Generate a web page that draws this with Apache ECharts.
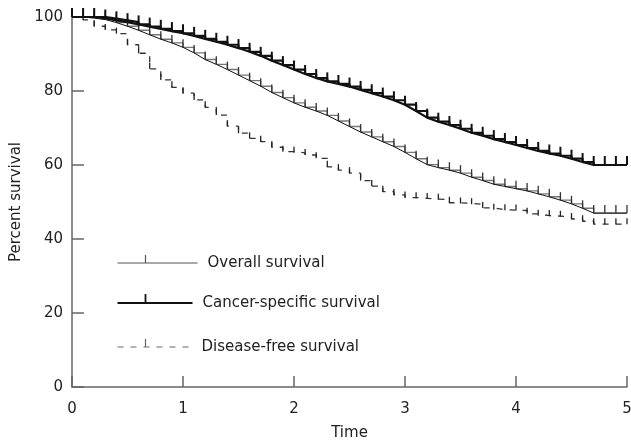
<!DOCTYPE html>
<html>
<head>
<meta charset="utf-8">
<script src="https://cdn.jsdelivr.net/npm/echarts@6/dist/echarts.min.js"></script>
<style>
  html, body { margin: 0; padding: 0; background: #fff; }
  #chart { width: 631px; height: 443px; }
</style>
</head>
<body>
<div id="chart"></div>
<script>
// time points (years)
var times = [0, 0.1, 0.2, 0.3, 0.4, 0.5, 0.6, 0.7, 0.8, 0.9,
    1.0, 1.1, 1.2, 1.3, 1.4, 1.5, 1.6, 1.7, 1.8, 1.9,
    2.0, 2.1, 2.2, 2.3, 2.4, 2.5, 2.6, 2.7, 2.8, 2.9,
    3.0, 3.1, 3.2, 3.3, 3.4, 3.5, 3.6, 3.7, 3.8, 3.9,
    4.0, 4.1, 4.2, 4.3, 4.4, 4.5, 4.6, 4.7, 4.8, 4.9, 5.0];

var overall = [100, 100, 99.7, 99.3, 98.5, 97.5, 96.4, 95.2, 94, 93,
    91.8, 90.3, 88.5, 87.2, 85.8, 84.3, 82.8, 81.3, 79.6, 78.2,
    76.8, 75.6, 74.6, 73.4, 71.9, 70.4, 68.9, 67.6, 66.3, 65,
    63.4, 61.7, 60.1, 59.3, 58.6, 57.8, 56.7, 55.8, 54.8, 54.2,
    53.6, 53, 52.2, 51.4, 50.5, 49.5, 48.3, 47, 47, 47, 47];

var cancer = [100, 100, 100, 99.6, 99.1, 98.6, 98, 97.4, 96.8, 96.2,
    95.6, 94.9, 94.1, 93.3, 92.5, 91.6, 90.6, 89.5, 88.2, 87,
    85.8, 84.6, 83.5, 82.6, 81.9, 81.2, 80.3, 79.4, 78.5, 77.5,
    76.3, 74.6, 72.8, 71.7, 70.8, 69.8, 68.7, 67.9, 67, 66.2,
    65.4, 64.6, 63.8, 63.1, 62.5, 61.7, 60.8, 60, 60, 60, 60];

var diseaseFree = [100, 99.2, 97.5, 96.5, 95.5, 92.5, 90.2, 86, 83, 81,
    79.4, 77.6, 75.6, 73.5, 70.5, 68.6, 67.2, 66.3, 64.8, 63.6,
    63.3, 62.7, 61.8, 59.5, 58.6, 57.8, 55.8, 54.3, 52.8, 51.9,
    51.2, 51, 50.8, 50.6, 49.8, 49.6, 49.4, 48.4, 47.9, 47.8,
    47.7, 46.8, 46.3, 46.2, 46, 45.4, 44.8, 44, 44, 44, 44];

var yTicks = [0, 20, 40, 60, 80, 100];
var legendNames = ['Overall survival', 'Cancer-specific survival', 'Disease-free survival'];

function pairs(vals) {
    return times.map(function (t, i) { return [t, vals[i]]; });
}

var font = 'DejaVu Sans, Verdana, sans-serif';
var chart = echarts.init(document.getElementById('chart'));

// legend drawn by hand: line sample + censor tick + text
function legendItem(y, len, name, lineStyle, tickW, tickH) {
    return {
        type: 'group',
        left: 115,
        top: y - 10,
        children: [
            { type: 'line', shape: { x1: 0, y1: 10, x2: len, y2: 10 }, style: lineStyle },
            { type: 'rect', shape: { x: 28 - tickW / 2, y: 10 - tickH, width: tickW, height: tickH }, style: { fill: lineStyle.stroke } },
            { type: 'text', x: len + 10, y: 10, style: { text: name, font: '15px ' + font, fill: '#222', textVerticalAlign: 'middle' } }
        ]
    };
}

var option = {
    animation: false,
    backgroundColor: '#fff',
    grid: { left: 72, right: 4, top: 17, bottom: 56, containLabel: false, outerBoundsMode: 'none' },
    xAxis: {
        type: 'value',
        min: 0, max: 5, interval: 1,
        name: 'Time',
        nameLocation: 'middle',
        nameGap: 39,
        nameTextStyle: { fontFamily: font, fontSize: 15, color: '#222' },
        axisLine: { lineStyle: { color: '#666', width: 1.5 } },
        axisTick: { inside: true, length: 11, lineStyle: { color: '#666', width: 1.5 } },
        axisLabel: { margin: 15, fontFamily: font, fontSize: 15, color: '#222' },
        splitLine: { show: false }
    },
    yAxis: {
        type: 'value',
        min: 0, max: 100, interval: 20,
        name: 'Percent survival',
        nameLocation: 'middle',
        nameGap: 45,
        nameTextStyle: { fontFamily: font, fontSize: 15, color: '#222' },
        axisLine: { show: true, lineStyle: { color: '#666', width: 1.5 } },
        axisTick: { show: true, inside: true, length: 12, lineStyle: { color: '#666', width: 1.5 } },
        axisLabel: {
            margin: 9, fontFamily: font, fontSize: 15, color: '#222',
            formatter: function (v) { return yTicks.indexOf(v) >= 0 ? String(v) : ''; }
        },
        splitLine: { show: false }
    },
    graphic: [
        legendItem(265, 80, legendNames[0], { stroke: '#555', lineWidth: 1.2 }, 1.2, 8),
        legendItem(304, 75, legendNames[1], { stroke: '#111', lineWidth: 2.2 }, 1.8, 9),
        legendItem(349, 74, legendNames[2], { stroke: '#666', lineWidth: 1.2, lineDash: [6, 7] }, 1.2, 8)
    ],
    series: [
        // disease-free: dashed steps
        {
            name: legendNames[2], type: 'line', step: 'end', data: pairs(diseaseFree),
            lineStyle: { color: '#333', width: 1.3, type: [6, 7] },
            symbol: 'rect', symbolSize: [1.3, 6], symbolOffset: [0, '-50%'], showSymbol: true,
            itemStyle: { color: '#222' }, z: 2
        },
        // overall: grey steps + thin black connecting line
        {
            name: legendNames[0], type: 'line', step: 'end', data: pairs(overall),
            lineStyle: { color: '#777', width: 1.4 },
            symbol: 'rect', symbolSize: [1.3, 8], symbolOffset: [0, '-50%'], showSymbol: true,
            itemStyle: { color: '#333' }, z: 3
        },
        {
            name: legendNames[0] + ' trend', type: 'line', data: pairs(overall),
            lineStyle: { color: '#111', width: 1 }, symbol: 'none', z: 3
        },
        // cancer-specific: thick black
        {
            name: legendNames[1], type: 'line', step: 'end', data: pairs(cancer),
            lineStyle: { color: '#111', width: 2.2 },
            symbol: 'rect', symbolSize: [2, 9], symbolOffset: [0, '-50%'], showSymbol: true,
            itemStyle: { color: '#111' }, z: 4
        },
        {
            name: legendNames[1] + ' trend', type: 'line', data: pairs(cancer),
            lineStyle: { color: '#111', width: 2.2 }, symbol: 'none', z: 4
        }
    ]
};
chart.setOption(option);
</script>
</body>
</html>
